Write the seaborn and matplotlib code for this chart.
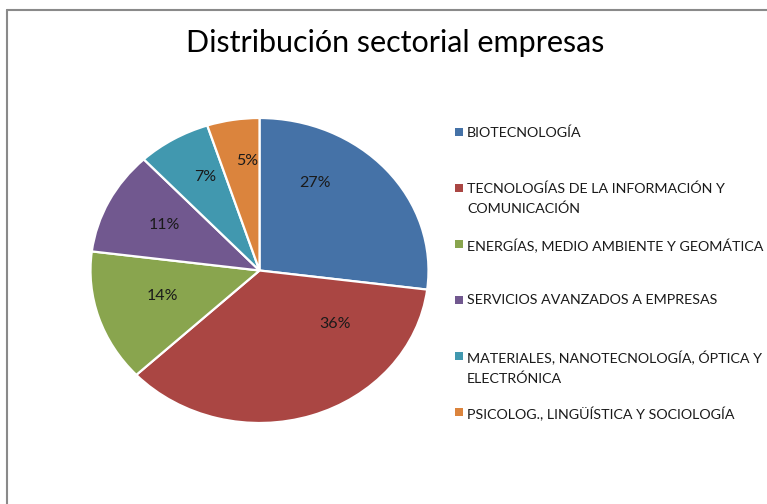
import matplotlib
matplotlib.use("Agg")
import matplotlib.pyplot as plt
import seaborn as sns
import numpy as np
from matplotlib.lines import Line2D
from matplotlib.patches import Rectangle

sns.set_theme(style="white")
plt.rcParams['font.family'] = ['Lato', 'DejaVu Sans']

# ---- data ----
title = "Distribución sectorial empresas"
categories = [
    "BIOTECNOLOGÍA",
    "TECNOLOGÍAS DE LA INFORMACIÓN Y\nCOMUNICACIÓN",
    "ENERGÍAS, MEDIO AMBIENTE Y GEOMÁTICA",
    "SERVICIOS AVANZADOS A EMPRESAS",
    "MATERIALES, NANOTECNOLOGÍA, ÓPTICA Y\nELECTRÓNICA",
    "PSICOLOG., LINGÜÍSTICA Y SOCIOLOGÍA",
]
values = [27, 36, 14, 11, 7, 5]
colors = ["#4572A7", "#AA4643", "#89A54E", "#71588F", "#4198AF", "#DB843D"]

# label placement (layout): angular shift from wedge middle (deg) and radius
label_shift = [19, 34, -2, -1, -3, -3]
label_r = [0.66, 0.57, 0.60, 0.64, 0.69, 0.72]

W, H = 767, 504
fig = plt.figure(figsize=(W / 100, H / 100), dpi=100)
fig.patch.set_facecolor("white")

# pie axes (slightly elliptical like the original)
cx, cy, rx, ry = 259.5, 270.5, 169, 152.5
ax = fig.add_axes([(cx - rx) / W, (H - cy - ry) / H, 2 * rx / W, 2 * ry / H])
wedges, texts, autotexts = ax.pie(
    values, colors=colors, startangle=90, counterclock=False,
    autopct=lambda p: f"{p:.0f}%", pctdistance=0.6,
    wedgeprops=dict(edgecolor="white", linewidth=1.6),
    textprops=dict(fontsize=11.5, color="#1a1a1a"),
)
for w, t, sh, r in zip(wedges, autotexts, label_shift, label_r):
    mid = np.deg2rad((w.theta1 + w.theta2) / 2 + sh)
    t.set_position((r * np.cos(mid), r * np.sin(mid)))
    t.set_ha("center"); t.set_va("center")
ax.set_aspect("auto")
ax.set_xlim(-1.0, 1.0)
ax.set_ylim(-1.0, 1.0)
for w in wedges:
    w.set_clip_on(False)
ax.axis("off")

# title
fig.text(395 / W, 1 - 43 / H, title, ha="center", va="center",
         fontsize=22, color="#000000")

# legend (Excel style: evenly spaced entry tops)
top0, step = 125, 56
for i, (lab, col) in enumerate(zip(categories, colors)):
    ytop = top0 + step * i
    fig.patches.append(Rectangle((455 / W, 1 - (ytop + 11) / H), 8 / W, 8 / H,
                                 transform=fig.transFigure, facecolor=col,
                                 edgecolor="none"))
    fig.text(467 / W, 1 - (ytop + 1.5) / H, lab, ha="left", va="top",
             fontsize=10.3, color="#1a1a1a", linespacing=1.75)

# chart frame (top and left visible)
fig.add_artist(Line2D([7 / W, 1.0], [1 - 10 / H, 1 - 10 / H],
                      transform=fig.transFigure, color="#8a8a8a", lw=1.5))
fig.add_artist(Line2D([7 / W, 7 / W], [1 - 10 / H, 0.0],
                      transform=fig.transFigure, color="#8a8a8a", lw=1.5))

fig.savefig("out.png", dpi=100)
